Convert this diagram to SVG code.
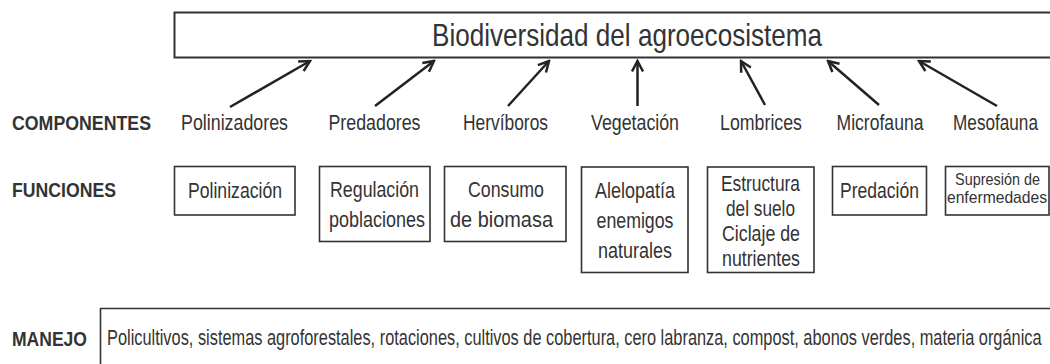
<svg xmlns="http://www.w3.org/2000/svg" width="1050" height="364" viewBox="0 0 1050 364">
<defs>
<marker id="ah" viewBox="0 0 14 14" markerWidth="14" markerHeight="14" markerUnits="userSpaceOnUse" refX="12" refY="7" orient="auto">
<path d="M1.5,1.5 L12,7 L1.5,12.5" fill="none" stroke="#222" stroke-width="2.5" stroke-linejoin="miter"/>
</marker>
<style>
text{font-family:"Liberation Sans",Arial,sans-serif;fill:#333;}
.t{font-size:32px;text-anchor:middle;}
.c{font-size:22px;text-anchor:middle;}
.f{font-size:22px;text-anchor:middle;}
.s{font-size:16px;text-anchor:middle;}
.b{font-size:21px;font-weight:bold;}
.m{font-size:22px;}
.box{fill:#fff;stroke:#333;stroke-width:1.6;}
.con{stroke:#222;stroke-width:2.5;fill:none;marker-end:url(#ah);}
</style>
</defs>
<rect width="1050" height="364" fill="#fff"/>

<g id="biodiversidad">
<rect class="box" x="174.5" y="12.5" width="890" height="45" style="stroke-width:2"/>
<text class="t" x="627" y="46" textLength="390" lengthAdjust="spacingAndGlyphs">Biodiversidad del agroecosistema</text>
</g>

<g id="labels">
<text class="b" x="12" y="130" textLength="139" lengthAdjust="spacingAndGlyphs">COMPONENTES</text>
<text class="b" x="12" y="197" textLength="104" lengthAdjust="spacingAndGlyphs">FUNCIONES</text>
<text class="b" x="12" y="346" textLength="75" lengthAdjust="spacingAndGlyphs">MANEJO</text>
</g>

<g id="componentes">
<text class="c" x="234.5" y="130" textLength="107" lengthAdjust="spacingAndGlyphs">Polinizadores</text>
<text class="c" x="374.5" y="130" textLength="92" lengthAdjust="spacingAndGlyphs">Predadores</text>
<text class="c" x="505.5" y="130" textLength="85" lengthAdjust="spacingAndGlyphs">Hervíboros</text>
<text class="c" x="635" y="130" textLength="88" lengthAdjust="spacingAndGlyphs">Vegetación</text>
<text class="c" x="761" y="130" textLength="82" lengthAdjust="spacingAndGlyphs">Lombrices</text>
<text class="c" x="880" y="130" textLength="87" lengthAdjust="spacingAndGlyphs">Microfauna</text>
<text class="c" transform="translate(995.5,130) scale(0.78,1)" x="0" y="0">Mesofauna</text>
</g>

<g id="connectors">
<line class="con" x1="230" y1="107" x2="310" y2="61"/>
<line class="con" x1="375" y1="106" x2="434" y2="61"/>
<line class="con" x1="508" y1="106" x2="549" y2="61"/>
<line class="con" x1="637.5" y1="106" x2="637.5" y2="61"/>
<line class="con" x1="765" y1="105" x2="741" y2="61"/>
<line class="con" x1="879" y1="105" x2="828" y2="61"/>
<line class="con" x1="997" y1="106" x2="919" y2="61"/>
</g>

<g id="polinizacion">
<rect class="box" x="174.5" y="166.5" width="120.5" height="48.5"/>
<text class="f" x="235" y="198" textLength="94" lengthAdjust="spacingAndGlyphs">Polinización</text>
</g>
<g id="regulacion">
<rect class="box" x="319.5" y="166.5" width="110.5" height="75"/>
<text class="f" x="374.5" y="197" textLength="89" lengthAdjust="spacingAndGlyphs">Regulación</text>
<text class="f" x="377" y="227" textLength="96" lengthAdjust="spacingAndGlyphs">poblaciones</text>
</g>
<g id="consumo">
<rect class="box" x="444.5" y="166.5" width="121.5" height="75"/>
<text class="f" x="506" y="197" textLength="76" lengthAdjust="spacingAndGlyphs">Consumo</text>
<text class="f" x="501.5" y="227" textLength="103" lengthAdjust="spacingAndGlyphs">de biomasa</text>
</g>
<g id="alelopatia">
<rect class="box" x="581.5" y="167" width="106.5" height="105.5"/>
<text class="f" x="635" y="198" textLength="80" lengthAdjust="spacingAndGlyphs">Alelopatía</text>
<text class="f" x="635" y="228" textLength="77" lengthAdjust="spacingAndGlyphs">enemigos</text>
<text class="f" x="635" y="258" textLength="74" lengthAdjust="spacingAndGlyphs">naturales</text>
</g>
<g id="estructura">
<rect class="box" x="707.5" y="167" width="106.5" height="105.5"/>
<text class="f" x="760.5" y="191" textLength="79" lengthAdjust="spacingAndGlyphs">Estructura</text>
<text class="f" x="760.5" y="216" textLength="69" lengthAdjust="spacingAndGlyphs">del suelo</text>
<text class="f" x="761" y="241" textLength="78" lengthAdjust="spacingAndGlyphs">Ciclaje de</text>
<text class="f" x="761" y="266" textLength="78" lengthAdjust="spacingAndGlyphs">nutrientes</text>
</g>
<g id="predacion">
<rect class="box" x="832.5" y="166.5" width="94" height="48.5"/>
<text class="f" x="879.5" y="198" textLength="79" lengthAdjust="spacingAndGlyphs">Predación</text>
</g>
<g id="supresion">
<rect class="box" x="945.5" y="166.5" width="103.5" height="48.5"/>
<text class="s" transform="translate(997.5,184.5) scale(0.9,1)" x="0" y="0">Supresión de</text>
<text class="s" transform="translate(997,202.5) scale(0.98,1)" x="0" y="0">enfermedades</text>
</g>

<g id="manejo">
<path class="box" d="M1062,308.5 H100.5 V372" style="fill:none"/>
<text class="m" transform="translate(107,345) scale(0.744,1)" x="0" y="0">Policultivos, sistemas agroforestales, rotaciones, cultivos de cobertura, cero labranza, compost, abonos verdes, materia orgánica</text>
</g>
</svg>
